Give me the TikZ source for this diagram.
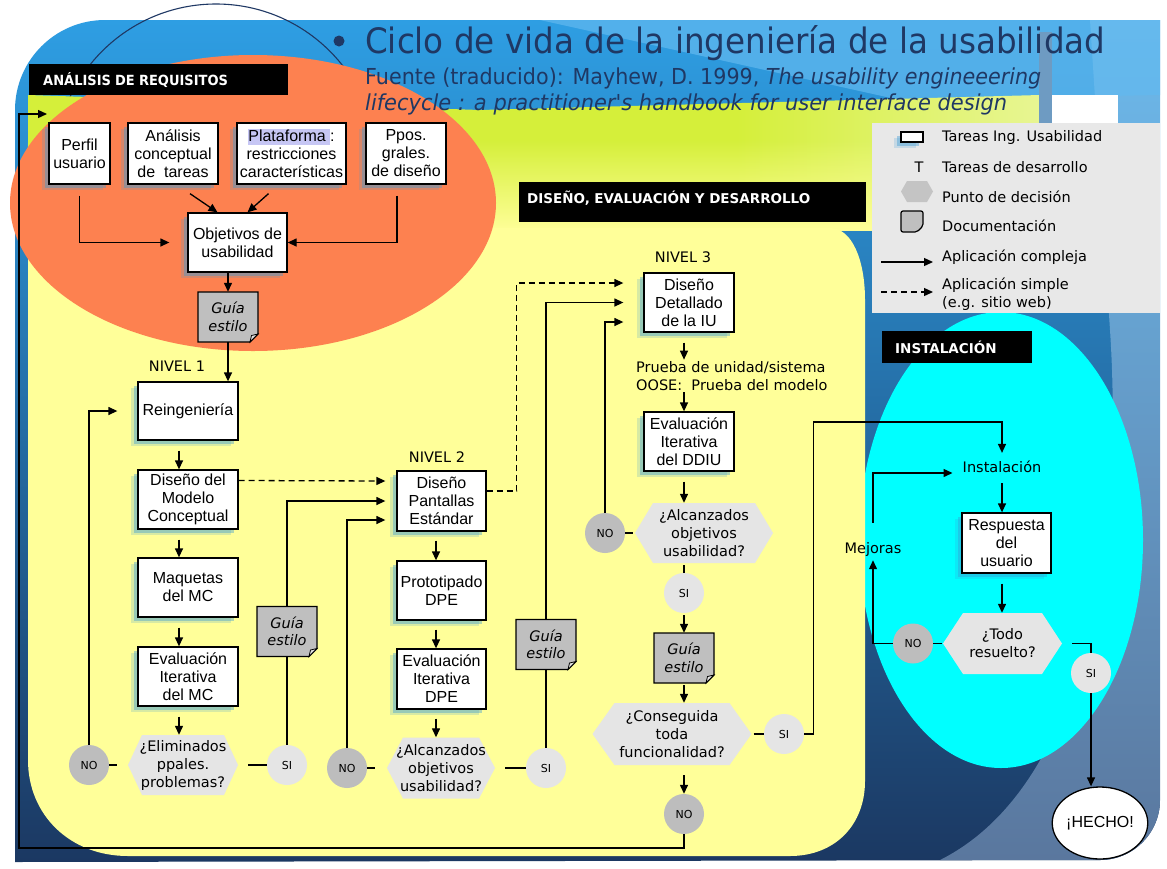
\documentclass[tikz,border=0pt]{standalone}
\usepackage{fontspec}
\setmainfont{Liberation Sans}
\newfontfamily\vf{DejaVu Sans}
\usepackage{graphicx}
\usetikzlibrary{arrows.meta,shadows,fadings,calc,shapes.geometric}
\definecolor{bluetop}{HTML}{2E9EE3}
\definecolor{bluemid}{HTML}{2A86CC}
\definecolor{bluebot}{HTML}{1B3862}
\definecolor{rightA}{HTML}{6DBAEC}
\definecolor{rightB}{HTML}{5A779E}
\definecolor{stripe}{HTML}{62B9EF}
\definecolor{barc}{HTML}{6E9BC2}
\definecolor{wgreen}{HTML}{D5EF3A}
\definecolor{wwhite}{HTML}{FAFCEB}
\definecolor{ylw}{HTML}{FFFF99}
\definecolor{orng}{HTML}{FD8150}
\definecolor{cyn}{HTML}{00FFFF}
\definecolor{navy}{HTML}{1F3864}
\definecolor{lav}{HTML}{C6C6F4}
\definecolor{glowc}{HTML}{3A9AD4}
\definecolor{docg}{HTML}{BFBFBF}
\definecolor{flapg}{HTML}{E2E2E2}
\definecolor{hexc}{HTML}{E5E5E5}
\definecolor{nog}{HTML}{BDBDBD}
\definecolor{sig}{HTML}{E5E5E5}
\definecolor{legbg}{HTML}{E8E8E8}
\definecolor{lghex}{HTML}{C4C4C4}
\pgfdeclarehorizontalshading{washsh}{100bp}{color(0bp)=(wgreen); color(60bp)=(wgreen); color(90bp)=(wwhite); color(100bp)=(wwhite)}
\tikzfading[name=fadedown, top color=transparent!100, bottom color=transparent!0]
\newcommand\hexfill[6]{\fill[#6] (#1-#3,#2) -- (#1-#3+#5,#2-#4) -- (#1+#3-#5,#2-#4) -- (#1+#3,#2) -- (#1+#3-#5,#2+#4) -- (#1-#3+#5,#2+#4) -- cycle;}
\newcommand\docfill[2]{\filldraw[docsty] (#1-30,#2-25) -- (#1+30,#2-25) -- (#1+30,#2+17) -- (#1+22,#2+25) -- (#1-30,#2+25) -- cycle;
 \filldraw[flapsty] (#1+30,#2+17) -- (#1+22,#2+25) -- (#1+23.5,#2+18.5) -- cycle;}
\setlength{\fboxsep}{0pt}
\begin{document}
\begin{tikzpicture}[x=1pt,y=-1pt,
  glow/.style={drop shadow={shadow xshift=-7pt,shadow yshift=-6pt,fill=glowc,opacity=.2},
               drop shadow={shadow xshift=-4pt,shadow yshift=-4pt,fill=glowc,opacity=.4}},
  sz/.style 2 args={minimum width=#1,minimum height=#2},
  ub/.style={draw,line width=1.3pt,fill=white,align=center,inner sep=1pt,glow,font=\fontsize{16}{18}\selectfont},
  dec/.style={inner sep=0pt,align=center,font=\vf\fontsize{14.5}{18}\selectfont},
  nob/.style={circle,fill=nog,minimum size=40pt,inner sep=0pt,font=\vf\fontsize{11}{11}\selectfont},
  sib/.style={circle,fill=sig,minimum size=40pt,inner sep=0pt,font=\vf\fontsize{11}{11}\selectfont},
  docn/.style={inner sep=0pt,align=center,minimum width=60pt,minimum height=50pt,font=\vf\itshape\fontsize{14.5}{17.5}\selectfont},
  docsty/.style={fill=docg,draw=black,line width=1.2pt,line join=miter},
  flapsty/.style={fill=flapg,draw=black,line width=0.8pt},
  vtext/.style={inner sep=1pt,font=\vf\fontsize{14.5}{18}\selectfont},
  hdr/.style={fill=black,text=white,anchor=north west,align=left,font=\vf\bfseries\fontsize{13.5}{15}\selectfont},
  ln/.style={line width=1.3pt},
  arr/.style={ln,-{Triangle[length=9pt,width=8pt]}},
  darr/.style={arr,dash pattern=on 6pt off 4pt}
]
\useasboundingbox (0,0) rectangle (1167,868);
\fill[white] (0,0) rectangle (1167,868);
% background
\shade[top color=bluetop,middle color=bluemid,bottom color=bluebot]
  (15,110) arc[start angle=180,end angle=270,radius=90] -- (1160,20) -- (1160,800)
  arc[start angle=0,end angle=90,radius=60] -- (15,862) -- cycle;
\shade[top color=rightA,bottom color=rightB]
  (1090,20) -- (1160,20) -- (1160,800) arc[start angle=0,end angle=90,radius=60]
  -- (940,860) .. controls (1080,790) and (1125,560) .. (1110,330) -- cycle;
\fill[stripe,opacity=.7] (540,20) -- (1160,20) -- (1160,95) -- (900,100) -- cycle;
\draw[navy,line width=1.1pt] (216,165) circle[radius=161];
\shade[shading=washsh] (28,95) -- (480,110) -- (1040,95) -- (1040,230) -- (28,230) -- cycle;
\fill[ylw,path fading=fadedown] (28,140) rectangle (1040,231);
\fill[white] (1046,95) rectangle (1118,123);
\fill[barc] (1039,32) rectangle (1052,123);
\fill[cyn] (1001,540) ellipse[x radius=142,y radius=228];
\fill[ylw] (28,228) -- (830,228) .. controls (852,228) and (865,260) .. (865,300)
  -- (865,781) .. controls (865,825) and (835,856) .. (790,856) -- (128,856)
  .. controls (70,856) and (28,815) .. (28,760) -- cycle;
\fill[orng] (253,203) ellipse[x radius=243,y radius=148];
% title
\node[circle,fill=navy,minimum size=11pt,inner sep=0pt] (bul) at (339,41) {};
\node[anchor=base west,inner sep=0pt,text=navy] (title) at (365,53)
  {\resizebox{740pt}{\height}{\vf\fontsize{35}{40}\selectfont Ciclo de vida de la ingeniería de la usabilidad}};
\node[anchor=base west,inner sep=0pt,text=navy] (sub1) at (365,84)
  {\resizebox{676pt}{\height}{\vf\fontsize{22}{26}\selectfont Fuente (traducido): Mayhew, D. 1999, \textit{The usability engineeering}}};
\node[anchor=base west,inner sep=0pt,text=navy] (sub2) at (365,110)
  {\resizebox{642pt}{\height}{\vf\fontsize{22}{26}\selectfont\itshape lifecycle : a practitioner's handbook for user interface design}};
% headers
\node[hdr,minimum height=31pt,text width=231pt,inner xsep=14pt] (hreq) at (29,64) {\scalebox{0.93}[1]{\fontsize{14}{15}\selectfont ANÁLISIS DE REQUISITOS}};
\node[hdr,minimum height=40pt,text width=331pt,inner xsep=8pt,text depth=9pt] (hdis) at (519,182) {DISEÑO, EVALUACIÓN Y DESARROLLO};
\node[hdr,minimum height=32pt,text width=124pt,inner xsep=13pt] (hins) at (882,331) {INSTALACIÓN};
% legend
\node[fill=legbg,minimum width=288pt,minimum height=190pt,anchor=north west,inner sep=0pt] (legend) at (872,123) {};
\node[draw,line width=1.3pt,fill=white,minimum width=22pt,minimum height=10pt,inner sep=0pt,glow] (lg1) at (912,137) {};
\node[vtext,anchor=west] (lt1) at (941,137) {Tareas Ing. Usabilidad};
\node[vtext] (lg2) at (919,167) {T};
\node[vtext,anchor=west] (lt2) at (941,167) {Tareas de desarrollo};
\hexfill{917}{191.5}{16}{10.5}{6}{lghex}
\node[minimum width=32pt,minimum height=21pt,inner sep=0pt] (lg3) at (917,191.5) {};
\node[vtext,anchor=west] (lt3) at (941,197) {Punto de decisión};
\filldraw[docsty,rounded corners=2pt] (901,211) -- (923,211) -- (923,226) -- (917,232) -- (901,232) -- cycle;
\node[minimum width=22pt,minimum height=21pt,inner sep=0pt] (lg4) at (912,221.5) {};
\node[vtext,anchor=west] (lt4) at (941,226) {Documentación};
\coordinate (la1s) at (881,262); \coordinate (la1e) at (933,262);
\coordinate (la2s) at (881,292); \coordinate (la2e) at (933,292);
\draw[arr] (la1s) -- (la1e);
\draw[darr] (la2s) -- (la2e);
\node[vtext,anchor=west] (lt5) at (941,257) {Aplicación compleja};
\node[vtext,anchor=west,align=left] (lt6) at (941,294) {Aplicación simple\\(e.g. sitio web)};
% requirements
\node[ub,sz={61pt}{61pt}] (perfil) at (79.5,153.5) {Perfil\\usuario};
\node[ub,sz={90pt}{61pt}] (analisis) at (173,153.5) {Análisis\\conceptual\\de~~tareas};
\node[ub,sz={109pt}{61pt}] (plat) at (291.5,153.5) {\colorbox{lav}{\rule[-3.5pt]{0pt}{16pt}Plataforma }:\\restricciones\\características};
\node[ub,sz={80pt}{61pt}] (ppos) at (406,153.5) {Ppos.\\grales.\\de diseño};
\node[ub,sz={99pt}{59pt}] (obj) at (237.5,242.5) {Objetivos de\\usabilidad};
\docfill{228}{317}
\node[docn] (guia1) at (228,317) {Guía\\estilo};
% level 1
\node[vtext] (niv1) at (177,366) {NIVEL 1};
\node[ub,sz={100pt}{58pt}] (reing) at (188,411) {Reingeniería};
\node[ub,sz={100pt}{59pt}] (dmc) at (188,499.5) {Diseño del\\Modelo\\Conceptual};
\node[ub,sz={100pt}{59pt}] (maq) at (188,587.5) {Maquetas\\del MC};
\node[ub,sz={100pt}{59pt}] (eval1) at (188,676.5) {Evaluación\\Iterativa\\del MC};
\hexfill{183}{765}{55}{30}{14}{hexc}
\node[dec,sz={110pt}{60pt}] (hex1) at (183,765) {¿Eliminados\\ppales.\\problemas?};
\node[nob] (no1) at (89,765) {NO};
\node[sib] (si1) at (287,765) {SI};
\docfill{287}{631.5}
\node[docn] (guia2) at (287,631.5) {Guía\\estilo};
% level 2
\node[vtext] (niv2) at (437,457) {NIVEL 2};
\node[ub,sz={89pt}{60pt}] (dps) at (441.5,501) {Diseño\\Pantallas\\Estándar};
\node[ub,sz={89pt}{59pt}] (proto) at (441.5,590.5) {Prototipado\\DPE};
\node[ub,sz={89pt}{60pt}] (eval2) at (441.5,679) {Evaluación\\Iterativa\\DPE};
\hexfill{441}{768}{54}{30.5}{16}{hexc}
\node[dec,sz={108pt}{61pt}] (hex2) at (441,768) {¿Alcanzados\\objetivos\\usabilidad?};
\node[nob] (no2) at (347,768) {NO};
\node[sib] (si2) at (546,768) {SI};
\docfill{546}{644.5}
\node[docn] (guia3) at (546,644.5) {Guía\\estilo};
% level 3
\node[vtext] (niv3) at (683,257) {NIVEL 3};
\node[ub,sz={90pt}{59pt}] (ddiu) at (689,302.5) {Diseño\\Detallado\\de la IU};
\node[vtext,anchor=west,align=left] (prueba) at (635,376) {Prueba de unidad/sistema\\OOSE:~~Prueba del modelo};
\node[ub,sz={90pt}{59pt}] (eval3) at (689,441.5) {Evaluación\\Iterativa\\del DDIU};
\hexfill{704}{533}{69}{30}{18}{hexc}
\node[dec,sz={138pt}{60pt}] (hex3) at (704,533) {¿Alcanzados\\objetivos\\usabilidad?};
\node[nob] (no3) at (605,533) {NO};
\node[sib] (si3) at (684,593) {SI};
\docfill{684}{658}
\node[docn] (guia4) at (684,658) {Guía\\estilo};
\hexfill{672}{734}{79.5}{31}{22}{hexc}
\node[dec,sz={159pt}{62pt}] (hex4) at (672,734) {¿Conseguida\\toda\\funcionalidad?};
\node[sib] (si4) at (784,734) {SI};
\node[nob] (no4) at (684,814) {NO};
% installation
\node[vtext] (inst) at (1002,467) {Instalación};
\node[ub,sz={89pt}{60pt}] (resp) at (1006.5,543) {Respuesta\\del\\usuario};
\hexfill{1002.5}{643.5}{59.5}{30.5}{20}{hexc}
\node[dec,sz={119pt}{61pt}] (hex5) at (1002.5,643.5) {¿Todo\\resuelto?};
\node[nob] (no5) at (913,643.5) {NO};
\node[sib] (si5) at (1091,673) {SI};
\node[vtext] (mej) at (873,549) {Mejoras};
\node[ellipse,draw,line width=1.3pt,fill=white,minimum width=77pt,minimum height=72pt,inner sep=0pt,font=\fontsize{16}{18}\selectfont] (hecho) at (1100,823) {¡HECHO!};
\coordinate (instin) at (1002,422);
\coordinate (retbl) at (19,848);
\coordinate (reqin) at (47,114);
% connectors: requirements
\draw[arr,shorten <=11pt,shorten >=18pt] (perfil.south) |- (obj.west);
\draw[arr,shorten <=11pt] ([xshift=-9pt]ppos.south) |- (obj.east);
\draw[arr] ([xshift=17pt,yshift=-9pt]analisis.south) -- ([xshift=-20pt]obj.north);
\draw[arr] ([xshift=-23pt,yshift=-9pt]plat.south) -- ([xshift=10pt]obj.north);
\draw[arr] (obj.south -| guia1.north) -- (guia1.north);
\draw[arr] (guia1.south) -- (guia1.south |- reing.north);
% level 1
\foreach \a/\b in {reing/dmc,dmc/maq,maq/eval1}
  \draw[arr,shorten <=10pt] ([xshift=-9pt]\a.south) -- ([xshift=-9pt]\b.north);
\draw[arr,shorten <=10pt] ([xshift=-9pt]eval1.south) -- ([xshift=-4pt]hex1.north);
\draw[ln] (no1.east) -- ++(8,0);
\draw[ln] ([xshift=10pt]hex1.east) -- (si1.west);
\draw[arr] (no1.north) |- ([xshift=-20pt]reing.west);
\draw[ln] (si1.north) -- (guia2.south);
\draw[arr] (guia2.north) |- ([xshift=-11pt]dps.west);
\draw[darr] ([yshift=19pt]dmc.east) -- ([xshift=-11pt,yshift=20pt]dps.west);
% level 2
\foreach \a/\b in {dps/proto,proto/eval2}
  \draw[arr,shorten <=9pt] ([xshift=-5.5pt]\a.south) -- ([xshift=-5.5pt]\b.north);
\draw[arr,shorten <=9pt] ([xshift=-5.5pt]eval2.south) -- ([xshift=-5pt]hex2.north);
\draw[ln] (no2.east) -- ++(8,0);
\draw[ln] ([xshift=10pt]hex2.east) -- (si2.west);
\draw[arr] (no2.north) |- ([xshift=-11pt,yshift=-19pt]dps.west);
\draw[ln] (si2.north) -- (guia3.south);
\draw[arr] (guia3.north) |- ([xshift=-20pt]ddiu.west);
\draw[darr] ([yshift=10pt]dps.east) -- ++(30,0) |- ([xshift=-20pt,yshift=19.5pt]ddiu.west);
% level 3
\draw[arr,shorten <=10pt] ([xshift=-5pt]ddiu.south) -- ($(ddiu.south)+(-5,27)$);
\draw[arr] ($(eval3.north)+(-5,-19)$) -- ([xshift=-5pt]eval3.north);
\draw[arr,shorten <=10pt] ([xshift=-5pt]eval3.south) -- ($(hex3.north)+(-20,0)$);
\draw[arr] (no3.north) |- ([xshift=-20pt,yshift=-19.5pt]ddiu.west);
\draw[ln] (no3.east) -- ++(8,0);
\draw[ln] ($(hex3.south)+(-20,2)$) -- (si3.north);
\draw[arr,shorten <=2pt] (si3.south) -- (guia4.north);
\draw[arr,shorten <=2pt] (guia4.south) -- ($(hex4.north)+(12,0)$);
\draw[ln] ([xshift=2pt]hex4.east) -- (si4.west);
\draw[arr,shorten <=10pt] ($(hex4.south)+(12,0)$) -- (no4.north);
\draw[arr,shorten >=7pt] (si4.east) -- ++(9,0) |- (instin) -- (inst.north);
\draw[arr] (no4.south) |- (retbl) |- (reqin);
% installation
\draw[arr,shorten <=9pt] (inst.south) -- ($(resp.north)+(-4.5,0)$);
\draw[arr,shorten <=10pt] ($(resp.south)+(-4.5,0)$) -- ($(hex5.north)+(-0.5,0)$);
\draw[ln] (no5.east) -- ++(9,0);
\draw[arr,shorten >=3pt] (no5.west) -| (mej.south);
\draw[arr,shorten <=18pt] (mej.north) |- ([xshift=-9pt,yshift=-6pt]inst.west);
\draw[ln] ([xshift=10pt]hex5.east) -| (si5.north);
\draw[arr] (si5.south) -- (si5.south |- hecho.north);
\end{tikzpicture}
\end{document}
